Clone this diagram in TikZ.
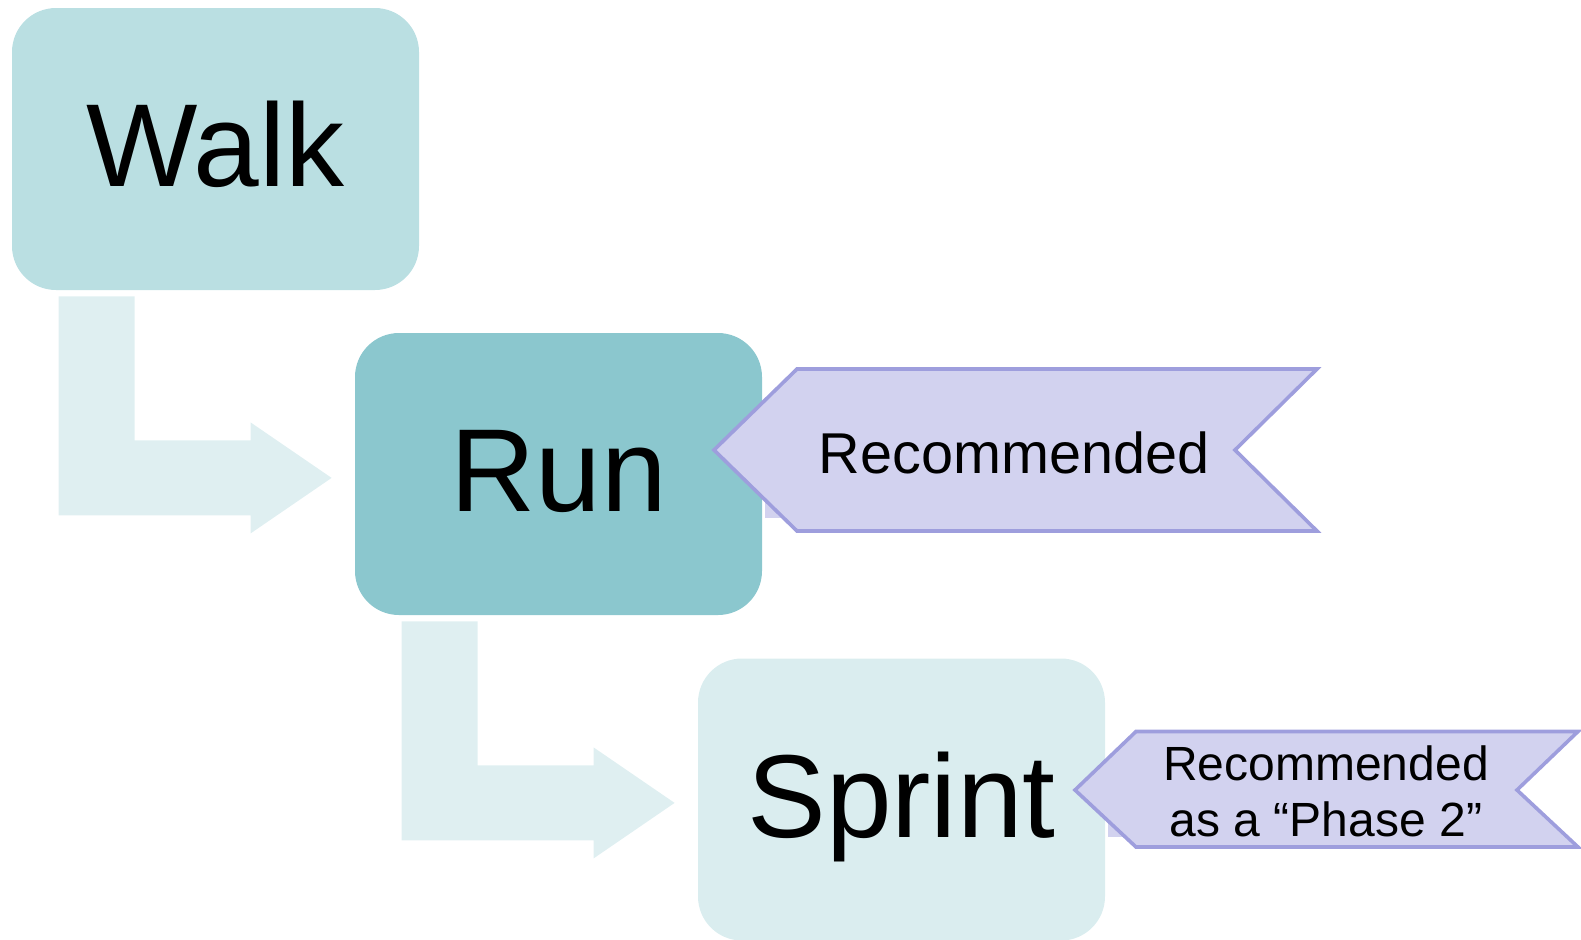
\documentclass[tikz,border=0pt]{standalone}
\usepackage{fontspec}
\setmainfont{Liberation Sans}
\usetikzlibrary{calc}

\definecolor{walkfill}{HTML}{BADFE2}
\definecolor{runfill}{HTML}{8BC7CE}
\definecolor{sprintfill}{HTML}{DAEDEF}
\definecolor{bendfill}{HTML}{DFEFF1}
\definecolor{flagfill}{HTML}{D2D2EF}
\definecolor{flagline}{HTML}{9E9EDD}

\begin{document}
\begin{tikzpicture}[
            x=0.5pt, y=-0.5pt,
            box_style/.style={rectangle, rounded corners=22pt, minimum width=203.5pt, minimum height=141pt, inner sep=0pt, text height=37.5pt, text depth=0pt, font=\fontsize{59}{68}\selectfont},
            bend_style/.style={fill=bendfill, draw=none},
            flag_style/.style={fill=flagfill, draw=flagline, line width=1.8pt, line join=miter},
            tag_style/.style={inner sep=0pt, align=center}
        ]
        \useasboundingbox (0,0) rectangle (1581,939);
        \clip (0,0) rectangle (1581,939);

        % Stufen
        \node (walk) [box_style, fill=walkfill] at (215.5,149) {Walk};
        \node (run) [box_style, fill=runfill] at (558.5,474) {Run};
        \node (sprint) [box_style, fill=sprintfill] at (901.5,799.5) {Sprint};

        % Abbiegepfeile
        \fill [bend_style] ($(walk.south west)+(47,6)$) -- ++(76,0) -- ++(0,144) -- ++(116,0) -- ++(0,-18) -- ++(81,55.5) -- ++(-81,55.5) -- ++(0,-18) -- ++(-192,0) -- cycle;
        \fill [bend_style] ($(run.south west)+(47,6)$) -- ++(76,0) -- ++(0,144) -- ++(116,0) -- ++(0,-18) -- ++(81,55.5) -- ++(-81,55.5) -- ++(0,-18) -- ++(-192,0) -- cycle;

        % Fahnen
        \fill [flagfill] (765,430) rectangle (800,518);
        \fill [flagfill] (1108,770) rectangle (1140,837);
        \draw [flag_style] (714,450) -- (797,369) -- (1317,369) -- (1235,450) -- (1317,531) -- (797,531) -- cycle;
        \draw [flag_style] (1075,790) -- (1136,731.5) -- (1578,731.5) -- (1517,790) -- (1578,847) -- (1136,847) -- cycle;

        \node (recone) [tag_style, anchor=base, font=\fontsize{28.8}{34}\selectfont] at (1014,473) {Recommended};
        \node (rectwo) [tag_style, font=\fontsize{24}{28}\selectfont] at (1326,791.5) {Recommended\\as a “Phase 2”};

    \end{tikzpicture}
\end{document}
